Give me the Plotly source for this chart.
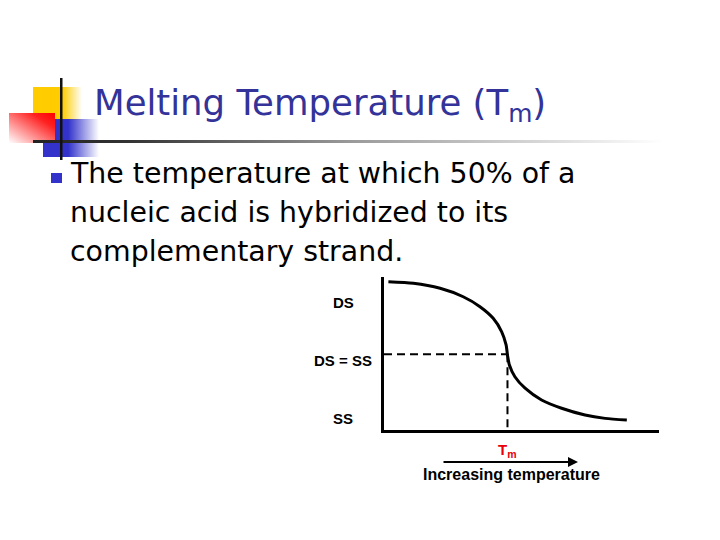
import base64
import plotly.graph_objects as go

W, H = 720, 540

# curve (x: temperature, y: % double stranded, arbitrary 0-100 units)
curve_x = [1.6, 10.7, 20.4, 28.8, 34.9, 39.7, 42.8, 44.4, 44.8, 45.0, 45.6, 47.6,
           51.3, 57.3, 64.6, 73.1, 80.4, 88.3]
curve_y = [96.9, 95.9, 92.6, 87.1, 80.6, 73.0, 64.2, 55.6, 50.5, 47.9, 42.5, 34.8,
           27.3, 19.6, 14.2, 9.8, 7.6, 6.5]
tm = 44.9
half = 49.5

state_labels = ["DS", "DS = SS", "SS"]
state_label_y = [302, 360, 418]  # px on slide

title = "Melting Temperature (T<sub>m</sub>)"
bullet_lines = ["The temperature at which 50% of a",
                "nucleic acid is hybridized to its",
                "complementary strand."]


def px(x):
    return x / W


def py(y):
    return 1 - y / H


# slide decoration (gradient boxes + rules), as an svg background
svg = f"""<svg xmlns='http://www.w3.org/2000/svg' width='{W}' height='{H}' viewBox='0 0 {W} {H}'>
<defs>
<linearGradient id='yel' x1='0' y1='0' x2='1' y2='0'>
<stop offset='0' stop-color='#ffcc00'/><stop offset='0.6' stop-color='#ffcc00'/>
<stop offset='1' stop-color='#ffcc00' stop-opacity='0'/></linearGradient>
<linearGradient id='blu' x1='0' y1='0' x2='1' y2='0'>
<stop offset='0' stop-color='#3333cc'/><stop offset='0.45' stop-color='#3333cc'/>
<stop offset='1' stop-color='#3333cc' stop-opacity='0'/></linearGradient>
<linearGradient id='red' x1='1' y1='0' x2='0' y2='1'>
<stop offset='0' stop-color='#ff0000'/><stop offset='0.25' stop-color='#ff2020'/>
<stop offset='1' stop-color='#ffffff'/></linearGradient>
<linearGradient id='rule' x1='0' y1='0' x2='1' y2='0'>
<stop offset='0' stop-color='#222222'/><stop offset='0.15' stop-color='#333333'/>
<stop offset='0.5' stop-color='#999999'/><stop offset='1' stop-color='#ffffff'/></linearGradient>
</defs>
<rect x='33' y='87' width='49' height='33' fill='url(#yel)'/>
<rect x='43' y='119' width='56' height='38' fill='url(#blu)'/>
<rect x='9' y='113' width='46' height='30' fill='url(#red)'/>
<rect x='33' y='140' width='630' height='3' fill='url(#rule)'/>
<rect x='60' y='78' width='2.5' height='82' fill='#111111'/>
</svg>"""
svg_src = "data:image/svg+xml;base64," + base64.b64encode(svg.encode()).decode()

fig = go.Figure()

fig.add_trace(go.Scatter(
    x=[0, tm], y=[half, half], mode="lines",
    line=dict(color="black", width=2, dash="8px,5px"), hoverinfo="skip"))
fig.add_trace(go.Scatter(
    x=[tm, tm], y=[half, 0], mode="lines",
    line=dict(color="black", width=2, dash="8px,5px"), hoverinfo="skip"))
fig.add_trace(go.Scatter(
    x=curve_x, y=curve_y, mode="lines",
    line=dict(color="black", width=3, shape="spline", smoothing=0.7)))

ann = []
ann.append(dict(text=title, x=px(92), y=py(105), xref="paper", yref="paper",
                xanchor="left", yanchor="middle", showarrow=False,
                font=dict(family="DejaVu Sans", size=35.5, color="#333399")))
for i, line in enumerate(bullet_lines):
    ann.append(dict(text=line, x=px(68), y=py(174 + 38.5 * i), xref="paper", yref="paper",
                    xanchor="left", yanchor="middle", showarrow=False,
                    font=dict(family="DejaVu Sans", size=28.4, color="black")))
for lab, ly in zip(state_labels, state_label_y):
    ann.append(dict(text=f"<b>{lab}</b>", x=px(343), y=py(ly), xref="paper", yref="paper",
                    xanchor="center", yanchor="middle", showarrow=False,
                    font=dict(family="Liberation Sans", size=15, color="black")))
ann.append(dict(text="<b>T<sub>m</sub></b>", x=tm, xref="x", y=py(450), yref="paper",
                xanchor="center", yanchor="middle", showarrow=False,
                font=dict(family="Liberation Sans", size=15, color="#e8000b")))
ann.append(dict(text="", x=px(578), y=py(462), xref="paper", yref="paper",
                ax=-136, ay=0, showarrow=True, arrowhead=2, arrowsize=1,
                arrowwidth=2, arrowcolor="black"))
ann.append(dict(text="<b>Increasing temperature</b>", x=px(511), y=py(474),
                xref="paper", yref="paper", xanchor="center", yanchor="middle",
                showarrow=False, font=dict(family="Liberation Sans", size=16, color="black")))

fig.update_layout(
    width=W, height=H, autosize=False,
    margin=dict(l=0, r=0, t=0, b=0),
    paper_bgcolor="white", plot_bgcolor="white",
    showlegend=False,
    annotations=ann,
    shapes=[dict(type="rect", xref="paper", yref="paper",
                 x0=px(51), x1=px(62), y0=py(183), y1=py(173),
                 fillcolor="#3333cc", line=dict(width=0))],
    images=[dict(source=svg_src, xref="paper", yref="paper", x=0, y=1,
                 sizex=1, sizey=1, xanchor="left", yanchor="top",
                 sizing="stretch", layer="below")],
    xaxis=dict(domain=[px(384), px(659)], range=[0, 100], showline=True,
               linewidth=3, linecolor="black", showgrid=False, zeroline=False,
               showticklabels=False, ticks="", fixedrange=True),
    yaxis=dict(domain=[py(430), py(277)], range=[0, 100], showline=True,
               linewidth=3, linecolor="black", showgrid=False, zeroline=False,
               showticklabels=False, ticks="", fixedrange=True),
)

# page has a default 8px body margin; drop it so the slide sits at 0,0
fig.write_html("out.html", config=dict(displayModeBar=False),
               post_script="document.body.style.margin='0';")
